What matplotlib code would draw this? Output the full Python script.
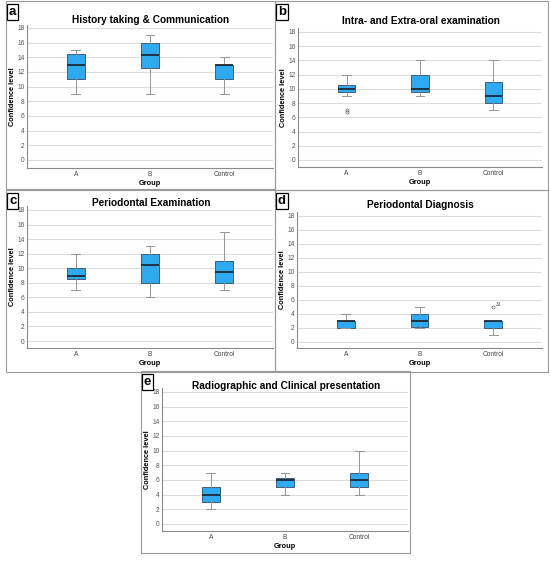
import matplotlib.pyplot as plt
from matplotlib.patches import Rectangle

W, H = 550, 562
groups = ["A", "B", "Control"]
yticks = list(range(0, 19, 2))

titles = ["History taking & Communication",
          "Intra- and Extra-oral examination",
          "Periodontal Examination",
          "Periodontal Diagnosis",
          "Radiographic and Clinical presentation"]
letters = ["a", "b", "c", "d", "e"]

# box stats per panel: (whislo, q1, med, q3, whishi) for A, B, Control
stats_a = [(9, 11, 13, 14.5, 15), (9, 12.5, 14.25, 16, 17), (9, 11, 13, 13, 14)]
stats_b = [(9, 9.5, 10, 10.5, 12), (9, 9.5, 10, 12, 14), (7, 8, 9, 11, 14)]
stats_c = [(7, 8.5, 9, 10, 12), (6, 8, 10.5, 12, 13), (7, 8, 9.5, 11, 15)]
stats_d = [(2, 2, 3, 3, 4), (2, 2.2, 3, 4, 5), (1, 2, 3, 3, 3)]
stats_e = [(2, 3, 4, 5, 7), (4, 5, 6, 6.3, 7), (4, 5, 6, 7, 10)]
fliers_b = [[7.0, 6.7], [], []]
fliers_d = [[], [], [5.0]]
flier_labels_d = [[], [], ["33"]]

all_stats = [stats_a, stats_b, stats_c, stats_d, stats_e]
all_fliers = [fliers_b if i == 1 else fliers_d if i == 3 else [[], [], []] for i in range(5)]

# layout in pixels: frame (l, t, r, b), axes (l, t, r, b)
frames = [(6, 1, 275, 189), (275, 1, 548, 190), (6, 190, 275, 372),
          (275, 190, 548, 372), (141, 371, 410, 553)]
axes_px = [(27, 25, 273, 168), (298, 28, 542, 167), (27, 206, 273, 348),
           (297, 212, 542, 348), (162, 388, 408, 531)]
zero_px = [160, 160, 341, 342, 524]
top_px = [28, 32, 210, 216, 392]
title_px = [20, 21, 203, 205, 386]

fig = plt.figure(figsize=(W / 100, H / 100), dpi=100)
plt.rcParams['font.family'] = ['Liberation Sans', 'DejaVu Sans']


def to_fig(l, t, r, b):
    return [l / W, 1 - b / H, (r - l) / W, (b - t) / H]


# panel frames
for (l, t, r, b) in frames:
    fig.patches.append(Rectangle((l / W, 1 - b / H), (r - l) / W, (b - t) / H,
                                 transform=fig.transFigure, fill=False,
                                 edgecolor='#9a9a9a', linewidth=0.8))

for i in range(5):
    l, t, r, b = axes_px[i]
    ax = fig.add_axes(to_fig(l, t, r, b))
    # y scale from pixel positions of 0 and 18
    ppu = (zero_px[i] - top_px[i]) / 18.0
    ax.set_ylim(-(b - zero_px[i]) / ppu, 18 + (top_px[i] - t) / ppu)
    ax.set_xlim(0.34, 3.66)

    bxp_stats = []
    for j, (lo, q1, med, q3, hi) in enumerate(all_stats[i]):
        bxp_stats.append(dict(whislo=lo, q1=q1, med=med, q3=q3, whishi=hi,
                              fliers=all_fliers[i][j], label=groups[j]))
    ax.bxp(bxp_stats, positions=[1, 2, 3], widths=0.24, patch_artist=True,
           boxprops=dict(facecolor='#2fa9ef', edgecolor='#3f5f78', linewidth=0.7),
           medianprops=dict(color='#1a2a36', linewidth=1.3),
           whiskerprops=dict(color='#959595', linewidth=0.7),
           capprops=dict(color='#959595', linewidth=0.7),
           flierprops=dict(marker='o', markersize=2.2, markerfacecolor='none',
                           markeredgecolor='#666666', markeredgewidth=0.5),
           capwidths=0.12)
    if i == 3:
        for j, labs in enumerate(flier_labels_d):
            for v, s in zip(fliers_d[j], labs):
                ax.text(3.04, v + 0.15, s, fontsize=3.5, color='#555555')

    ax.set_yticks(yticks)
    ax.set_xticks([1, 2, 3])
    ax.set_xticklabels(groups)
    ax.yaxis.grid(True, color='#dcdcdc', linewidth=0.8)
    ax.set_axisbelow(True)
    for s in ['top', 'right']:
        ax.spines[s].set_visible(False)
    for s in ['left', 'bottom']:
        ax.spines[s].set_color('#8a8a8a')
        ax.spines[s].set_linewidth(0.8)
    ax.tick_params(axis='y', labelsize=4.8, colors='#555555', length=0, pad=1.8)
    ax.tick_params(axis='x', labelsize=4.8, colors='#444444', length=0, pad=2)
    ax.set_ylabel("Confidence level", fontsize=5.3, fontweight='bold', labelpad=0.5)
    ax.set_xlabel("Group", fontsize=5.3, fontweight='bold', labelpad=1.5)

    fl, ft, fr, fb = frames[i]
    fig.text(((l + r) / 2 + 1) / W, 1 - title_px[i] / H, titles[i], fontsize=7.3,
             fontweight='bold', ha='center', va='center')
    fig.text((fl + 3) / W, 1 - (ft + 5) / H, letters[i], fontsize=9.5, fontweight='bold',
             va='top', ha='left',
             bbox=dict(boxstyle='square,pad=0.12', facecolor='white',
                       edgecolor='black', linewidth=0.9))

fig.savefig("out.png", dpi=100)
